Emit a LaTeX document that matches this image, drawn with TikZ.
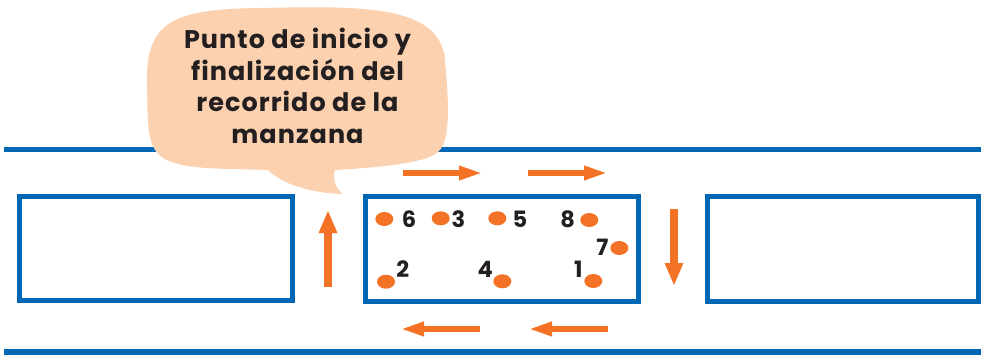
\documentclass[tikz,border=0pt]{standalone}
\usepackage{fontspec}
\setmainfont{Poppins}
\newfontfamily\bubblefont[LetterSpace=4]{Poppins}
\newfontfamily\digitfont[LetterSpace=0]{Poppins}
\usetikzlibrary{arrows.meta,shapes.geometric}
\definecolor{roadblue}{HTML}{0067B4}
\definecolor{arrorange}{HTML}{F37225}
\definecolor{peach}{HTML}{FCD1AF}
\definecolor{inkdark}{HTML}{231F20}
\tikzset{
  block/.style={draw=roadblue,line width=5pt,inner sep=0pt,fill=white},
  road/.style={draw=roadblue,line width=5.5pt},
  hdir/.style={draw=arrorange,line width=6.5pt,-{Triangle[length=24pt,width=13pt]}},
  vdir/.style={draw=arrorange,line width=8pt,-{Triangle[length=23pt,width=17pt]}},
  spot/.style={ellipse,fill=arrorange,inner sep=0pt,minimum width=18pt,minimum height=14pt},
  digit/.style={text=inkdark,font=\digitfont\fontsize{22.5}{22.5}\selectfont\bfseries,inner sep=0pt},
}
\begin{document}
\begin{tikzpicture}[x=1pt,y=-1pt]
\useasboundingbox (0,0) rectangle (981,354);
% roads
\coordinate (rt1) at (4,149.5);
\coordinate (rt2) at (981,149.5);
\coordinate (rb1) at (4,351.8);
\coordinate (rb2) at (981,351.8);
\draw[road] (rt1) -- (rt2);
\draw[road] (rb1) -- (rb2);
% blocks
\node[block,minimum width=273pt,minimum height=104pt] (left) at (156,248.5) {};
\node[block,minimum width=273pt,minimum height=105pt] (mid) at (502,249) {};
\node[block,minimum width=271pt,minimum height=105pt] (right) at (843,249) {};
% speech bubble
\fill[peach] (147,90) .. controls (145,25) and (165,9) .. (260,8)
  .. controls (360,6) and (440,4) .. (445,60)
  .. controls (448,95) and (452,140) .. (438,152)
  .. controls (425,164) and (370,168) .. (335,170)
  .. controls (332,180) and (336,188) .. (343,194)
  .. controls (310,193) and (282,184) .. (268,170)
  .. controls (225,168) and (168,172) .. (155,150)
  .. controls (146,135) and (148,110) .. (147,90) -- cycle;
\node[text=inkdark,font=\bubblefont\fontsize{25.5}{31.5}\selectfont\bfseries,align=center,inner sep=0pt] (bubbletext) at (297.5,86) {Punto de inicio y\\finalización del\\recorrido de la\\manzana};
% direction arrows
\coordinate (a1s) at (403,173); \coordinate (a1e) at (483,173);
\coordinate (a2s) at (528,173); \coordinate (a2e) at (608,173);
\coordinate (a3s) at (674,209); \coordinate (a3e) at (674,286);
\coordinate (a4s) at (608,329); \coordinate (a4e) at (528,329);
\coordinate (a5s) at (480,329); \coordinate (a5e) at (400,329);
\coordinate (a6s) at (328,287); \coordinate (a6e) at (328,210);
\draw[hdir] (a1s) -- (a1e);
\draw[hdir] (a2s) -- (a2e);
\draw[vdir] (a3s) -- (a3e);
\draw[hdir] (a4s) -- (a4e);
\draw[hdir] (a5s) -- (a5e);
\draw[vdir] (a6s) -- (a6e);
% stops
\node[spot] (p6) at (384.3,219) {};
\node[spot] (p3) at (440.7,218.3) {};
\node[spot] (p5) at (497.3,218.3) {};
\node[spot] (p8) at (589.3,220) {};
\node[spot] (p7) at (619.3,248) {};
\node[spot] (p2) at (386,281.7) {};
\node[spot] (p4) at (502.3,281.3) {};
\node[spot] (p1) at (593.3,281) {};
\node[digit] (n6) at (409,219) {6};
\node[digit] (n3) at (458.3,219) {3};
\node[digit] (n5) at (520,219) {5};
\node[digit] (n8) at (567.7,219) {8};
\node[digit] (n7) at (602.3,247.3) {7};
\node[digit] (n2) at (402.7,269) {2};
\node[digit] (n4) at (485.3,269) {4};
\node[digit] (n1) at (578.3,269) {1};
\end{tikzpicture}
\end{document}
